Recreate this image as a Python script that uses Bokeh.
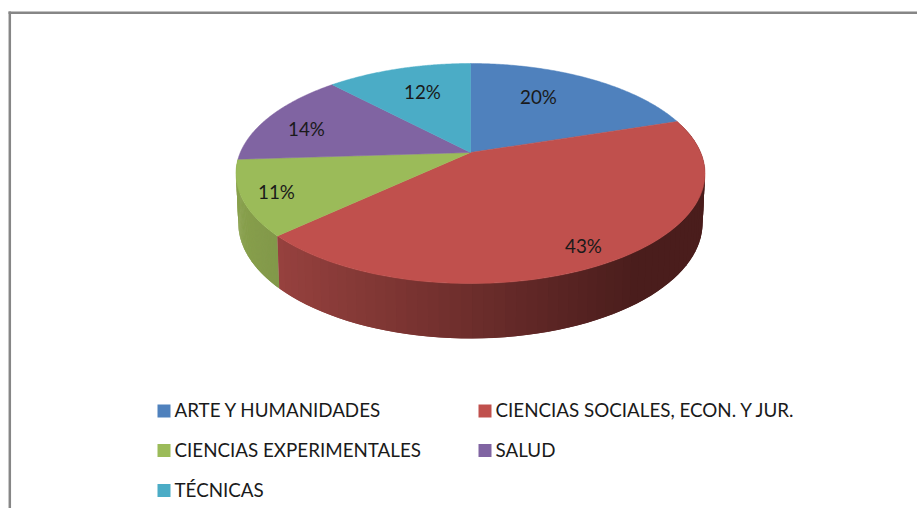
import numpy as np
from bokeh.plotting import figure
from bokeh.core.properties import value
from bokeh.embed import file_html
from bokeh.resources import INLINE

categories = ["ARTE Y HUMANIDADES", "CIENCIAS SOCIALES, ECON. Y JUR.",
              "CIENCIAS EXPERIMENTALES", "SALUD", "TÉCNICAS"]
shares = [20, 43, 11, 14, 12]
colors = ["#4F81BD", "#C0504D", "#9BBB59", "#8064A2", "#4BACC6"]

# layout constants (page pixels)
W, H = 917, 508
AX, AY = 470.0, 152.0      # apex of the top disc
A, B, C = 230.2, 106.0, 0.191  # perspective projection of the disc
BOT_Y0, BOT_SX, BOT_SY = 200.4, 0.99, 1.05
label_anchor = [(538, 96), (583, 245), (276, 191), (306, 128), (422, 91)]
legend_slots = [(157, 410.5), (478, 410.5), (157, 450), (478, 450), (157, 490)]
FONT = "Lato"


def top_rim(t):
    d = 1 + C * np.cos(t)
    return AX + A * np.sin(t) / d, AY - B * np.cos(t) / d


def bottom_rim(t):
    d = 1 + C * np.cos(t)
    return (AX + BOT_SX * A * np.sin(t) / d,
            BOT_Y0 - BOT_SY * B * np.cos(t) / d)


def mix(c1, c2, f):
    return "#%02x%02x%02x" % tuple(int(round(a + (b - a) * f)) for a, b in zip(c1, c2))


p = figure(width=W, height=H, x_range=(0, W), y_range=(H, 0),
           output_backend="svg", toolbar_location=None, min_border=0,
           outline_line_color=None, background_fill_color="white")
p.axis.visible = False
p.grid.visible = False

edges = np.cumsum([0] + shares) / sum(shares) * 2 * np.pi

# chart frame
p.segment([9.3, 8], [11, 12.2], [9.3, W], [H, 12.2], line_color="#868686", line_width=2.5)

# outer wall: red and green slices are the ones that face the viewer
side_x, side_y, side_c = [], [], []
for i, (dark_l, dark_r) in {2: ((130, 152, 74), (136, 160, 76)),
                            1: ((150, 65, 62), (74, 29, 28))}.items():
    end = min(edges[i + 1], np.radians(275))
    ts = np.linspace(end, edges[i], 70)  # painted from the far end, each strip overlaps the next
    for k in range(len(ts) - 1):
        t0, t1 = ts[k + 1], ts[max(k - 1, 0)]
        xa, ya = top_rim(np.array([t0, t1]))
        xb, yb = bottom_rim(np.array([t1, t0]))
        side_x.append(list(xa) + list(xb))
        side_y.append(list(ya) + list(yb))
        if i == 1:
            f = float(np.clip((xa.mean() - 281) / (640 - 281), 0, 1))
            side_c.append(mix(dark_l, dark_r, f))
        else:
            f = float(np.clip((xa.mean() - 237) / 40, 0, 1))
            side_c.append(mix(dark_r, dark_l, f))
p.patches(side_x, side_y, fill_color=side_c, line_color=None)

# top faces
top_x, top_y = [], []
for t0, t1 in zip(edges[:-1], edges[1:]):
    ts = np.linspace(t0, t1, 120)
    x, y = top_rim(ts)
    top_x.append([AX] + list(x))
    top_y.append([AY] + list(y))
p.patches(top_x, top_y, fill_color=colors, line_color=colors, line_width=0.5)

# percentage labels
p.text([a[0] for a in label_anchor], [a[1] for a in label_anchor],
       text=[f"{s}%" for s in shares], text_font=value(FONT), text_font_size="18.8px",
       text_color="#1a1a1a", text_align="center", text_baseline="middle")

# legend
lx = [s[0] for s in legend_slots]
ly = [s[1] for s in legend_slots]
p.rect([x + 6.5 for x in lx], ly, width=13, height=13, fill_color=colors, line_color=None)
p.text([x + 17 for x in lx], [y - 1.5 for y in ly], text=categories, text_font=value(FONT),
       text_font_size="18.8px", text_color="#1a1a1a", text_align="left", text_baseline="middle")

open("out.html", "w").write(file_html(p, INLINE))
